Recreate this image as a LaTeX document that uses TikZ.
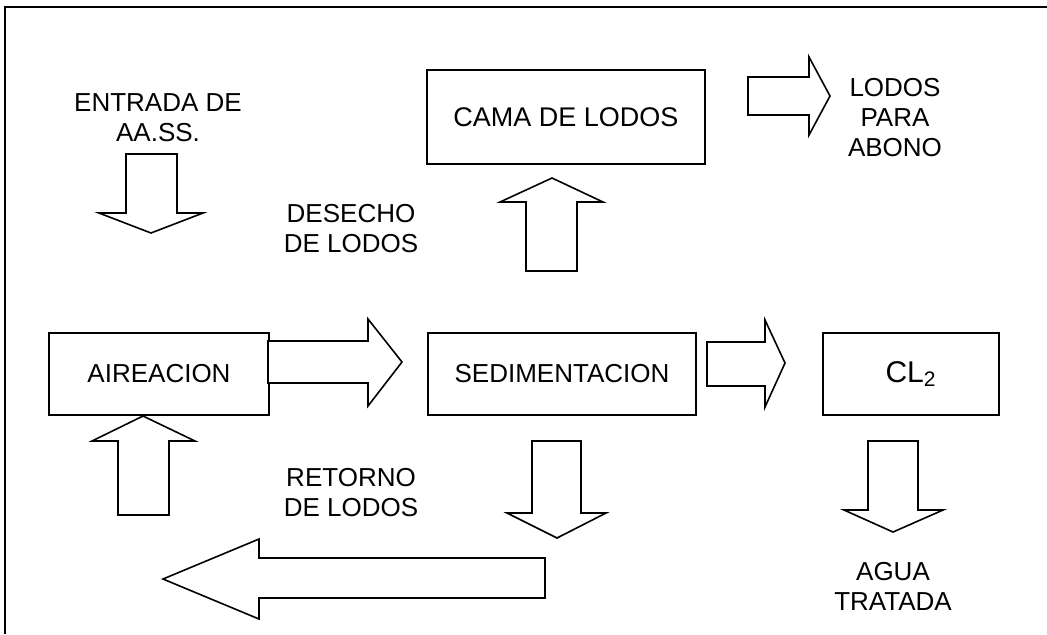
\documentclass[tikz,border=0pt]{standalone}
\usepackage{fontspec}
\setmainfont{Liberation Sans}
\tikzset{
  stage/.style={draw, line width=1pt, inner sep=0pt},
  label/.style={align=center, inner sep=0pt},
  blockarrow/.style={draw, line width=0.8pt, fill=white, line join=miter},
}
\begin{document}
\begin{tikzpicture}[x=0.5pt, y=-0.5pt, font=\fontsize{13}{15}\selectfont]
        \useasboundingbox (0,0) rectangle (1047,634);
        \draw[line width=1.2pt] (1047,7) -| (5,634);

        \node[stage, minimum width=139pt, minimum height=47pt, font=\fontsize{13.5}{15}\selectfont] (cama) at (566,117) {CAMA DE LODOS};
        \node[stage, minimum width=110pt, minimum height=41pt] (aire) at (159,374) {AIREACION};
        \node[stage, minimum width=134pt, minimum height=41pt] (sedi) at (562,374) {SEDIMENTACION};
        \node[stage, minimum width=88pt, minimum height=41pt, font=\fontsize{15}{17}\selectfont] (cloro) at (911,374) {CL\textsubscript{2}};

        \node[label] (entrada) at (158,117.5) {ENTRADA DE\\AA.SS.};
        \node[label] (desecho) at (351,229) {DESECHO\\DE LODOS};
        \node[label] (retorno) at (351,493) {RETORNO\\DE LODOS};
        \node[label] (abono) at (895,117.5) {LODOS\\PARA\\ABONO};
        \node[label] (agua) at (893,586) {AGUA\\TRATADA};

        \draw[blockarrow] (126,154) -- (177,154) -- (177,213) -- (203,213) -- (151,233) -- (99,213) -- (126,213) -- cycle;
        \draw[blockarrow] (526,271) -- (577,271) -- (577,202) -- (603,202) -- (552,178) -- (500,202) -- (526,202) -- cycle;
        \draw[blockarrow] (748,77) -- (809,77) -- (809,57) -- (830,96) -- (809,135) -- (809,115) -- (748,115) -- cycle;
        \draw[blockarrow] (268,341) -- (368,341) -- (368,319) -- (402,362) -- (368,406) -- (368,383) -- (268,383) -- cycle;
        \draw[blockarrow] (707,342) -- (765,342) -- (765,320) -- (785,363) -- (765,407) -- (765,386) -- (707,386) -- cycle;
        \draw[blockarrow] (118,515) -- (169,515) -- (169,441) -- (195,441) -- (143,416) -- (92,441) -- (118,441) -- cycle;
        \draw[blockarrow] (532,441) -- (581,441) -- (581,513) -- (606,513) -- (557,538) -- (507,513) -- (532,513) -- cycle;
        \draw[blockarrow] (545,558) -- (259,558) -- (259,539) -- (163,579) -- (259,619) -- (259,598) -- (545,598) -- cycle;
        \draw[blockarrow] (868,441) -- (918,441) -- (918,510) -- (943,510) -- (893,532) -- (844,510) -- (868,510) -- cycle;

    \end{tikzpicture}
\end{document}
